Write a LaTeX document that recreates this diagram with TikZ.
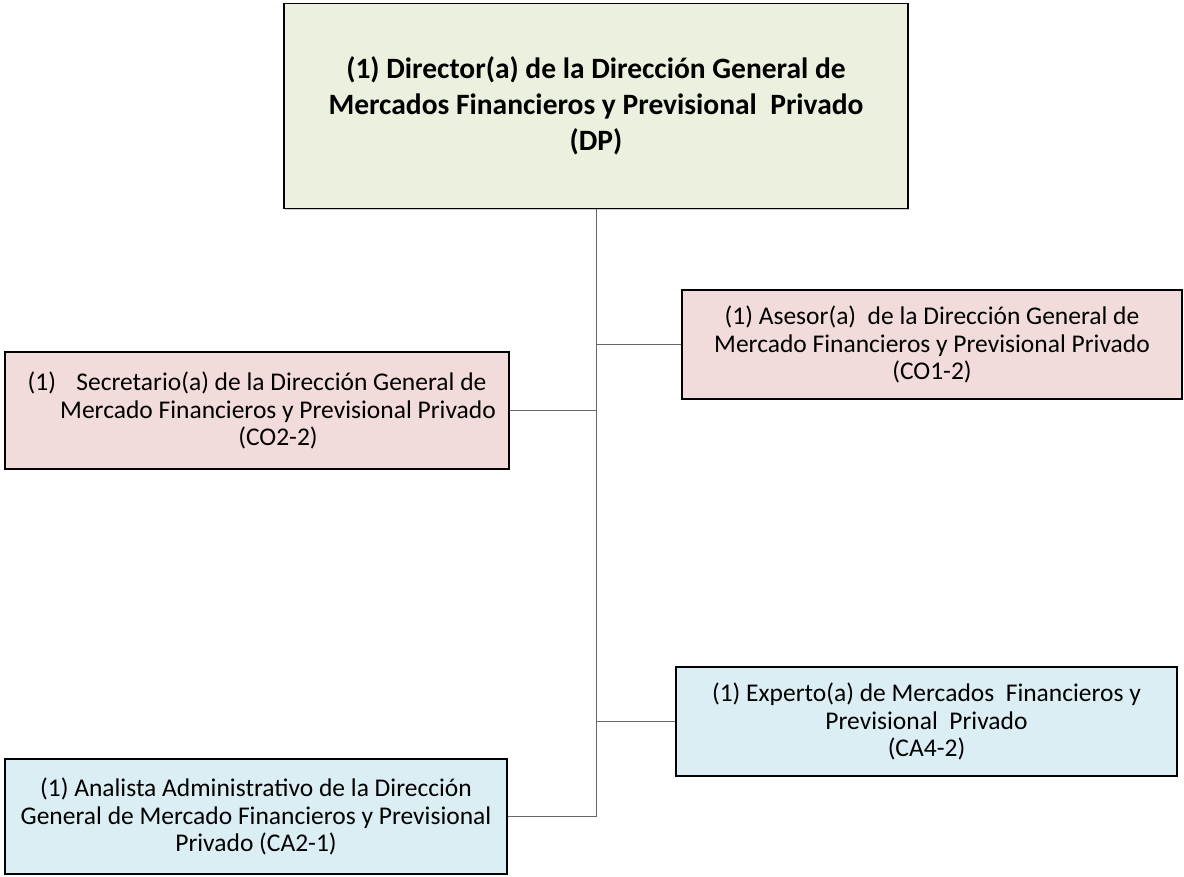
\documentclass[tikz,border=0pt]{standalone}
\usepackage{fontspec}
\setmainfont{Carlito}
\usetikzlibrary{shadows}
\definecolor{dirfill}{HTML}{EBF1DE}
\definecolor{cofill}{HTML}{F2DCDB}
\definecolor{cafill}{HTML}{DBEEF3}
\tikzset{box/.style={draw,line width=1.6pt,align=center,inner sep=0pt,font=\fontsize{25.5}{27.5}\selectfont,drop shadow={shadow xshift=1.2pt,shadow yshift=-1.2pt,fill=black!40}},link/.style={draw=black!60,line width=1pt}}

\begin{document}
\begin{tikzpicture}[x=1pt,y=-1pt]
\useasboundingbox(0,0)rectangle(1184,877);
\node[box,fill=dirfill,minimum width=624pt,minimum height=205pt,font=\bfseries\fontsize{29.5}{36}\selectfont](dir)at(596,106){(1) Director(a) de la Dirección General de\\Mercados Financieros y Previsional\ \ Privado\\(DP)};
\node[box,fill=cofill,minimum width=500pt,minimum height=109pt](ase)at(932,344.5){(1) Asesor(a)\ \ de la Dirección General de\\Mercado Financieros y Previsional Privado\\(CO1-2)};
\node[box,fill=cofill,minimum width=504pt,minimum height=117pt](sec)at(257,410.5){(1)\hspace{0.8em}Secretario(a) de la Dirección General de\\\hspace*{42pt}Mercado Financieros y Previsional Privado\\\hspace*{42pt}(CO2-2)};
\node[box,fill=cafill,minimum width=501pt,minimum height=109pt](exp)at(926.5,721.5){(1) Experto(a) de Mercados\ \ Financieros y\\Previsional\ \ Privado\\(CA4-2)};
\node[box,fill=cafill,minimum width=502pt,minimum height=115pt](ana)at(256,816.5){(1) Analista Administrativo de la Dirección\\General de Mercado Financieros y Previsional\\Privado (CA2-1)};
\draw[link](dir.south)--(dir.south|-ana.east);
\foreach\n/\s in{ase/west,sec/east,exp/west,ana/east}\draw[link](\n.\s)--(\n.\s-|dir.south);
\end{tikzpicture}
\end{document}
